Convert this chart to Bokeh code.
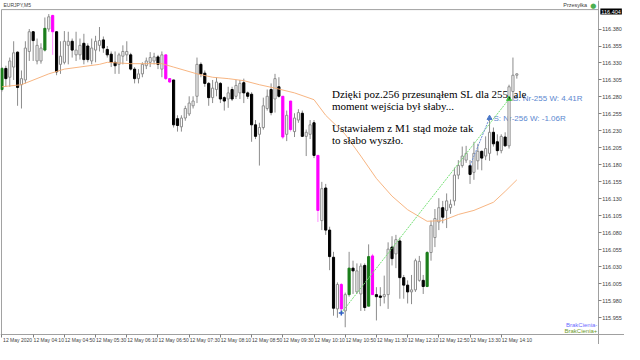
from bokeh.plotting import figure
from bokeh.models import Range1d, FixedTicker, Label, ColumnDataSource
from bokeh.embed import file_html
from bokeh.resources import INLINE
from bokeh.core.properties import value

# ---------------- data (EURJPY M5, 12 May 2020, bar index 0 = 03:30) ----------------
open_ = [116.291, 116.322, 116.309, 116.324, 116.346, 116.298, 116.305, 116.347, 116.376, 116.333,
         116.333, 116.349, 116.380, 116.400, 116.376, 116.328, 116.331, 116.356, 116.362, 116.342,
         116.342, 116.359, 116.355, 116.333, 116.349, 116.356, 116.364, 116.350, 116.343, 116.331,
         116.328, 116.340, 116.342, 116.342, 116.321, 116.307, 116.314, 116.326, 116.331, 116.333,
         116.339, 116.321, 116.342, 116.307, 116.305, 116.248, 116.236, 116.249, 116.255, 116.267,
         116.281, 116.328, 116.315, 116.300, 116.279, 116.291, 116.300, 116.279, 116.277, 116.291,
         116.281, 116.286, 116.301, 116.286, 116.284, 116.239, 116.225, 116.235, 116.263, 116.291,
         116.277, 116.295, 116.281, 116.225, 116.274, 116.229, 116.246, 116.256, 116.222, 116.225,
         116.242, 116.194, 116.098, 116.146, 116.084, 116.044, 115.968, 116.004, 115.965, 115.989,
         116.028, 115.993, 115.990, 116.032, 115.972, 116.046, 115.989, 115.987, 115.986, 115.989,
         116.059, 116.049, 116.068, 116.014, 116.003, 115.993, 115.996, 116.010, 116.010, 116.001,
         116.051, 116.073, 116.096, 116.117, 116.113, 116.117, 116.127, 116.165, 116.179, 116.187,
         116.179, 116.169, 116.186, 116.200, 116.193, 116.197, 116.228, 116.214, 116.201, 116.221,
         116.208, 116.288, 116.312]
high = [116.324, 116.326, 116.338, 116.362, 116.347, 116.319, 116.362, 116.380, 116.377, 116.366,
        116.359, 116.397, 116.402, 116.401, 116.377, 116.362, 116.377, 116.376, 116.366, 116.376,
        116.366, 116.373, 116.359, 116.366, 116.370, 116.383, 116.369, 116.355, 116.347, 116.347,
        116.345, 116.356, 116.362, 116.345, 116.324, 116.321, 116.331, 116.338, 116.346, 116.345,
        116.342, 116.347, 116.342, 116.307, 116.305, 116.253, 116.253, 116.267, 116.281, 116.281,
        116.338, 116.331, 116.319, 116.302, 116.305, 116.309, 116.302, 116.281, 116.295, 116.295,
        116.305, 116.305, 116.307, 116.288, 116.287, 116.246, 116.242, 116.279, 116.291, 116.300,
        116.314, 116.309, 116.281, 116.260, 116.274, 116.256, 116.262, 116.260, 116.232, 116.246,
        116.246, 116.194, 116.155, 116.152, 116.089, 116.052, 116.007, 116.006, 115.992, 116.052,
        116.039, 116.035, 116.035, 116.035, 116.063, 116.049, 116.000, 116.000, 116.017, 116.066,
        116.075, 116.077, 116.073, 116.018, 116.010, 116.018, 116.042, 116.046, 116.018, 116.053,
        116.098, 116.115, 116.131, 116.127, 116.138, 116.129, 116.176, 116.187, 116.207, 116.208,
        116.187, 116.214, 116.211, 116.201, 116.222, 116.246, 116.235, 116.225, 116.225, 116.228,
        116.298, 116.338, 116.315]
low = [116.288, 116.295, 116.295, 116.305, 116.267, 116.263, 116.300, 116.333, 116.333, 116.328,
       116.329, 116.347, 116.376, 116.342, 116.312, 116.314, 116.328, 116.328, 116.338, 116.333,
       116.335, 116.328, 116.331, 116.328, 116.331, 116.347, 116.345, 116.338, 116.324, 116.314,
       116.314, 116.328, 116.333, 116.319, 116.300, 116.300, 116.309, 116.321, 116.324, 116.328,
       116.321, 116.309, 116.305, 116.301, 116.235, 116.229, 116.229, 116.245, 116.252, 116.263,
       116.271, 116.309, 116.295, 116.267, 116.271, 116.281, 116.271, 116.260, 116.264, 116.274,
       116.277, 116.277, 116.271, 116.277, 116.214, 116.218, 116.179, 116.232, 116.260, 116.253,
       116.257, 116.279, 116.218, 116.215, 116.229, 116.221, 116.242, 116.221, 116.193, 116.218,
       116.190, 116.096, 116.084, 116.077, 116.025, 115.958, 115.955, 115.965, 115.941, 115.986,
       115.990, 115.990, 115.965, 115.965, 115.972, 115.989, 115.951, 115.972, 115.976, 115.968,
       116.032, 116.028, 115.983, 115.983, 115.976, 115.975, 115.993, 116.008, 115.990, 116.000,
       116.039, 116.059, 116.084, 116.094, 116.087, 116.108, 116.120, 116.159, 116.176, 116.183,
       116.152, 116.158, 116.173, 116.172, 116.187, 116.186, 116.207, 116.194, 116.197, 116.207,
       116.204, 116.274, 116.307]
close = [116.322, 116.307, 116.333, 116.345, 116.294, 116.307, 116.352, 116.376, 116.363, 116.356,
         116.352, 116.381, 116.398, 116.376, 116.317, 116.340, 116.362, 116.362, 116.349, 116.349,
         116.356, 116.335, 116.335, 116.352, 116.362, 116.363, 116.352, 116.342, 116.331, 116.326,
         116.342, 116.347, 116.347, 116.321, 116.307, 116.314, 116.328, 116.333, 116.338, 116.339,
         116.328, 116.342, 116.307, 116.302, 116.239, 116.238, 116.249, 116.263, 116.271, 116.274,
         116.328, 116.314, 116.300, 116.279, 116.293, 116.302, 116.277, 116.274, 116.286, 116.277,
         116.297, 116.300, 116.286, 116.281, 116.239, 116.222, 116.235, 116.267, 116.281, 116.257,
         116.307, 116.281, 116.221, 116.253, 116.232, 116.249, 116.257, 116.222, 116.228, 116.239,
         116.194, 116.113, 116.145, 116.084, 116.045, 115.969, 116.004, 115.968, 115.989, 116.028,
         116.024, 116.024, 116.031, 115.970, 116.045, 115.989, 115.986, 115.985, 115.989, 116.056,
         116.042, 116.070, 116.014, 116.003, 115.993, 115.996, 116.039, 116.038, 116.001, 116.051,
         116.091, 116.101, 116.117, 116.103, 116.127, 116.122, 116.165, 116.179, 116.193, 116.197,
         116.166, 116.197, 116.200, 116.190, 116.204, 116.228, 116.211, 116.201, 116.222, 116.208,
         116.295, 116.312, 116.314]

green_bars = [0, 11, 89, 94, 109]               # BrakCienia+
magenta_bars = [13, 42, 43, 72, 74, 81, 87, 95]  # BrakCienia-

ma_idx = [0, 5, 12, 16, 25, 27, 33, 41, 44, 50, 54, 58, 62, 66, 70, 75, 80, 83, 88, 92, 96, 100,
          104, 109, 113, 117, 121, 126, 129, 132]
ma_val = [116.295, 116.298, 116.314, 116.321, 116.328, 116.331, 116.329, 116.329, 116.324, 116.314,
          116.309, 116.307, 116.304, 116.298, 116.293, 116.286, 116.276, 116.253, 116.225, 116.193,
          116.160, 116.134, 116.114, 116.097, 116.098, 116.107, 116.113, 116.125, 116.141, 116.158]

trade_names = ["S: Nr-255   W: 4.41R", "S: Nr-256   W: -1.06R"]
trade_open_idx = [87, 120]
trade_open_px = [115.962, 116.179]
trade_close_idx = [130, 125]
trade_close_px = [116.277, 116.249]
trade_colors = ["#74e074", "#6d8fd6"]

notes = ["Dzięki poz.256 przesunąłem SL dla 255, ale", "moment wejścia był słaby...",
         "Ustawiałem z M1 stąd może tak", "to słabo wyszło."]
note_idx = [84.6, 84.6, 84.6, 84.6]
note_px = [116.285, 116.267, 116.234, 116.217]

x_tick_idx = [0, 8, 16, 24, 32, 40, 48, 56, 64, 72, 80, 88, 96, 104, 112, 120, 128]
x_tick_lab = ["12 May 2020", "12 May 04:10", "12 May 04:50", "12 May 05:30", "12 May 06:10",
              "12 May 06:50", "12 May 07:30", "12 May 08:10", "12 May 08:50", "12 May 09:30",
              "12 May 10:10", "12 May 10:50", "12 May 11:30", "12 May 12:10", "12 May 12:50",
              "12 May 13:30", "12 May 14:10"]
y_ticks = [115.955, 115.980, 116.005, 116.030, 116.055, 116.080, 116.105, 116.130, 116.155,
           116.180, 116.205, 116.230, 116.255, 116.280, 116.305, 116.330, 116.355, 116.380]
y_tick_lab = ["115.955", "115.980", "116.005", "116.030", "116.055", "116.080", "116.105",
              "116.130", "116.155", "116.180", "116.205", "116.230", "116.255", "116.280",
              "116.305", "116.330", "116.355", "116.380"]
box_price_label = "116.404"

# chart window in data units (bars / price); the whole canvas is the plot frame,
# the price scale and time scale are axes fixed at the window's right and bottom edges
win_left, win_right = -0.125, 152.9
win_top, win_bottom = 116.4086, 115.931
X0, X1 = -0.375, 159.6
Y0, Y1 = 115.9156, 116.422

p = figure(width=624, height=344, output_backend="svg", toolbar_location=None,
           x_range=Range1d(X0, X1), y_range=Range1d(Y0, Y1), y_axis_location="right",
           min_border_left=0, min_border_right=0, min_border_top=0, min_border_bottom=0)
p.xgrid.visible = False
p.ygrid.visible = False
p.outline_line_color = None
p.background_fill_color = "white"
p.border_fill_color = "white"

for ax in (p.xaxis[0], p.yaxis[0]):
    ax.axis_line_color = "#a0a0a0"
    ax.major_tick_in = 0
    ax.major_tick_out = 3
    ax.major_label_text_font = "Liberation Sans"
    ax.major_label_text_color = "#404040"

p.yaxis.fixed_location = win_right
p.yaxis.ticker = FixedTicker(ticks=y_ticks)
p.yaxis.major_label_overrides = {t: l for t, l in zip(y_ticks, y_tick_lab)}
p.yaxis.major_label_standoff = 1
p.yaxis.major_label_text_font_size = "5.5px"
p.yaxis.major_tick_line_color = "#808080"
p.yaxis.minor_tick_line_color = None

# MT4 writes each time label to the right of its tick: labels sit on (hidden) major
# ticks 4 bars later, the visible tick marks are the minor ticks at the label times
shift = 4
p.xaxis.fixed_location = win_bottom
p.xaxis.ticker = FixedTicker(ticks=[t + shift for t in x_tick_idx], minor_ticks=x_tick_idx)
p.xaxis.major_label_overrides = {t + shift: l for t, l in zip(x_tick_idx, x_tick_lab)}
p.xaxis.major_tick_line_color = None
p.xaxis.minor_tick_line_color = "#808080"
p.xaxis.minor_tick_in = 0
p.xaxis.minor_tick_out = 3
p.xaxis.major_label_standoff = 0
p.xaxis.major_label_text_font_size = "5px"

# window frame lines (left and top)
p.segment(x0=[win_left, win_left], y0=[win_top, win_top], x1=[win_right, win_left],
          y1=[win_top, win_bottom], line_color="#a0a0a0", line_width=1)

# ---------------- candles ----------------
n = len(open_)
idx = list(range(n))
top, bot, fill, line, wick = [], [], [], [], []
for i in idx:
    o, c = open_[i], close[i]
    top.append(max(o, c))
    bot.append(min(o, c))
    if i in green_bars:
        fill.append("#1a7d1a"); line.append("#1a7d1a"); wick.append("#8c8c8c")
    elif i in magenta_bars:
        fill.append("#ff00ff"); line.append("#ff00ff"); wick.append("#ff8cff")
    elif c >= o:
        fill.append("white"); line.append("#8c8c8c"); wick.append("#8c8c8c")
    else:
        fill.append("black"); line.append("black"); wick.append("#8c8c8c")

src = ColumnDataSource(dict(x=idx, high=high, low=low, top=top, bot=bot,
                            fill=fill, line=line, wick=wick))

p.segment(x0="x", y0="high", x1="x", y1="low", color="wick", line_width=1, source=src)

# trade labels (behind candle bodies)
p.text(x=[t + 1.0 for t in trade_close_idx], y=trade_close_px, text=trade_names,
       text_font=value("Liberation Sans"), text_font_size="8px", text_color="#5b87cf",
       text_baseline="middle", text_align="left")

p.vbar(x="x", width=0.55, top="top", bottom="bot", fill_color="fill", line_color="line",
       line_width=1, source=src)

# moving average
p.line(ma_idx, ma_val, line_color="#f6ad74", line_width=1, line_alpha=0.9)

# trade lines and arrows
for k in range(2):
    p.line([trade_open_idx[k], trade_close_idx[k]], [trade_open_px[k], trade_close_px[k]],
           line_color=trade_colors[k], line_width=1, line_dash="2 1")
p.scatter([trade_open_idx[0]], [trade_open_px[0]], marker="cross", size=5, line_color="#2f5fc4", line_width=1.5)
p.scatter(trade_close_idx, trade_close_px, marker="triangle", size=5,
          fill_color=["#3fbf3f", "#4a78c8"], line_color=["#3fbf3f", "#4a78c8"])

# notes
p.text(x=note_idx, y=note_px, text=notes, text_font=value("Liberation Serif"),
       text_font_size="11px", text_color="black", text_baseline="middle", text_align="left")

# corner texts (above the window frame line)
p.add_layout(Label(x=0.4, y=win_top, text="EURJPY,M5", text_font="Liberation Sans",
                   text_font_size="5px", text_color="#404040", y_offset=2, text_baseline="bottom"))
p.add_layout(Label(x=150.0, y=win_top, text="Przesyłka", text_font="Liberation Sans",
                   text_font_size="5.5px", text_color="#404040", y_offset=2,
                   text_baseline="bottom", text_align="right"))
p.add_layout(Label(x=151.6, y=win_top, text="●", text_font="DejaVu Sans",
                   text_font_size="7px", text_color="#4caf50", y_offset=0,
                   text_baseline="bottom", text_align="center"))
p.add_layout(Label(x=win_right, y=win_top, text=box_price_label, text_font="Liberation Sans",
                   text_font_size="5.5px", text_color="white", x_offset=2, y_offset=-2,
                   text_baseline="middle", text_align="left",
                   background_fill_color="black", padding=1))
p.add_layout(Label(x=win_right, y=115.945, text="BrakCienia-", text_font="Liberation Sans",
                   text_font_size="6px", text_color="#6b6bff", x_offset=-1,
                   text_baseline="middle", text_align="right"))
p.add_layout(Label(x=win_right, y=115.936, text="BrakCienia+", text_font="Liberation Sans",
                   text_font_size="6px", text_color="#6f9a2a", x_offset=-1,
                   text_baseline="middle", text_align="right"))

open("out.html", "w").write(file_html(p, INLINE))
